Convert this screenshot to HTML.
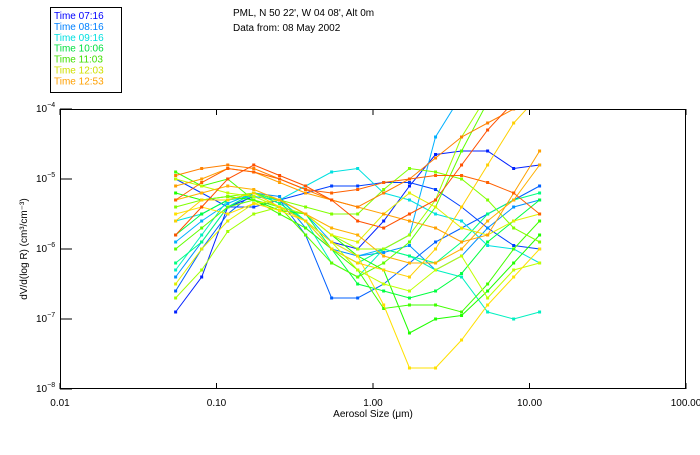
<!DOCTYPE html>
<html><head><meta charset="utf-8"><style>
body{margin:0;background:#fff;width:700px;height:450px;overflow:hidden;font-family:"Liberation Sans",sans-serif}
svg text{font-family:"Liberation Sans",sans-serif;font-size:10px}
</style></head><body>
<svg id="chart" width="700" height="450" xmlns="http://www.w3.org/2000/svg">
<rect x="50.5" y="7.5" width="71" height="85" fill="#fff" stroke="#000"/>
<g id="legend"></g>
<text x="233" y="16" fill="#000">PML, N 50 22', W 04 08', Alt 0m</text>
<text x="233" y="31" fill="#000">Data from: 08 May 2002</text>
<defs><clipPath id="pc"><rect x="60" y="109" width="626" height="280"/></clipPath></defs>
<g id="series" clip-path="url(#pc)"></g>
<rect x="60.5" y="109.5" width="625" height="279" fill="none" stroke="#000"/>
<g id="axes"></g>
<text x="373" y="417" text-anchor="middle" fill="#000">Aerosol Size (μm)</text>
<text transform="translate(27,249) rotate(-90)" text-anchor="middle" fill="#000">dV/d(log R) (cm³/cm⁻³)</text>
</svg>
<script>
const sizes=[0.0548,0.0804,0.118,0.173,0.253,0.371,0.544,0.798,1.17,1.71,2.51,3.68,5.40,7.92,11.6];
const legendLabels=["Time 07:16","Time 08:16","Time 09:16","Time 10:06","Time 11:03","Time 12:03","Time 12:53"];
const legendColors=["#0000ff","#0080ff","#00e0e0","#00e040","#40e000","#d0e000","#ffa000"];
const xTicks=[0.01,0.1,1,10,100];
const xTickLabels=["0.01","0.10","1.00","10.00","100.00"];
const yTicks=[-4,-5,-6,-7,-8];
const seriesColors=["#0020ff","#0040ff","#0060ff","#0090ff","#00b0ff","#00e0e0","#00f0c0","#00ff80","#00ff40","#20ff00","#40ff00","#60ff00","#80ff00","#a0ff00","#c0ff00","#e0f000","#ffe000","#ffd000","#ffb000","#ffa000","#ff8000","#ff6000","#ff5000"];
const s01=[-6.9,-6.4,-5.4,-5.25,-5.3,-5.6,-5.9,-6.0,-5.6,-5.1,-4.65,-4.6,-4.6,-4.85,-4.8];
const s02=[-5.0,-5.2,-5.4,-5.4,-5.3,-5.2,-5.1,-5.1,-5.05,-5.05,-5.15,-5.4,-5.7,-5.95,-6.0];
const s03=[-6.6,-6.0,-5.5,-5.2,-5.3,-5.8,-6.7,-6.7,-6.5,-6.2,-5.9,-5.7,-5.5,-5.3,-5.1];
const s04=[-6.4,-5.9,-5.4,-5.2,-5.25,-5.7,-6.0,-6.1,-6.05,-5.95,-6.3,-6.1,-5.7,-5.4,-5.3];
const s05=[-5.9,-5.6,-5.35,-5.2,-5.3,-5.5,-5.9,-6.1,-6.0,-5.8,-4.4,-3.8,-3.6,-3.5,-3.5];
const s06=[-5.6,-5.5,-5.3,-5.25,-5.3,-5.1,-4.9,-4.85,-5.2,-5.3,-5.5,-5.6,-5.95,-6.0,-6.2];
const s07=[-6.3,-5.8,-5.3,-5.2,-5.3,-5.6,-6.2,-6.4,-6.0,-6.1,-6.3,-6.4,-6.9,-7.0,-6.9];
const s08=[-6.2,-5.9,-5.4,-5.2,-5.35,-5.6,-6.0,-6.2,-6.0,-6.1,-6.2,-5.9,-5.5,-5.3,-5.2];
const s09=[-5.8,-5.5,-5.3,-5.2,-5.3,-5.5,-6.0,-6.5,-6.6,-6.7,-6.6,-6.35,-5.9,-5.6,-5.3];
const s10=[-5.2,-5.3,-5.25,-5.3,-5.45,-5.5,-5.8,-6.1,-6.3,-7.2,-7.0,-6.95,-6.6,-6.2,-5.8];
const s11=[-4.9,-5.1,-5.0,-5.3,-5.5,-5.7,-6.0,-6.3,-6.85,-6.8,-6.8,-6.9,-6.5,-6.0,-5.6];
const s12=[-6.0,-5.7,-5.4,-5.3,-5.4,-5.8,-6.2,-6.4,-6.2,-5.9,-5.4,-4.6,-3.9,-3.6,-3.5];
const s13=[-5.4,-5.3,-5.25,-5.2,-5.3,-5.4,-5.5,-5.5,-5.15,-4.85,-4.9,-5.0,-5.3,-5.7,-5.9];
const s14=[-6.7,-6.3,-5.75,-5.5,-5.4,-5.5,-5.8,-6.0,-6.0,-5.8,-5.3,-4.4,-3.8,-3.6,-3.5];
const s15=[-5.0,-5.1,-5.2,-5.25,-5.4,-5.6,-5.9,-6.3,-6.5,-6.6,-6.3,-6.1,-6.7,-6.3,-6.2];
const s16=[-6.5,-6.0,-5.6,-5.35,-5.3,-5.5,-5.8,-5.9,-5.5,-5.2,-5.4,-5.7,-5.8,-5.6,-5.5];
const s17=[-5.5,-5.4,-5.5,-5.35,-5.45,-5.6,-5.9,-6.1,-6.8,-7.7,-7.7,-7.3,-6.8,-6.4,-6.0];
const s18=[-5.6,-5.3,-5.3,-5.2,-5.4,-5.6,-6.0,-6.2,-6.3,-6.4,-6.0,-5.4,-4.8,-4.2,-3.8];
const s19=[-5.3,-5.2,-5.1,-5.15,-5.3,-5.5,-5.7,-5.8,-6.1,-6.2,-6.2,-6.0,-5.6,-5.3,-4.8];
const s20=[-5.1,-5.0,-4.85,-4.9,-5.05,-5.2,-5.3,-5.4,-5.5,-5.6,-5.7,-5.9,-5.8,-5.2,-4.6];
const s21=[-4.95,-4.85,-4.8,-4.85,-5.0,-5.15,-5.3,-5.4,-5.2,-5.0,-4.7,-4.4,-4.2,-4.0,-3.9];
const s22=[-5.3,-5.05,-4.85,-4.9,-5.0,-5.15,-5.2,-5.15,-5.05,-5.0,-4.95,-4.95,-5.05,-5.2,-5.5];
const s23=[-5.8,-5.4,-5.0,-4.8,-4.95,-5.1,-5.3,-5.6,-5.7,-5.5,-5.3,-4.8,-4.3,-3.9,-3.6];
const allSeries=[s01,s02,s03,s04,s05,s06,s07,s08,s09,s10,s11,s12,s13,s14,s15,s16,s17,s18,s19,s20,s21,s22,s23];

const NS="http://www.w3.org/2000/svg";
const X0=60,X1=686,Y0=109,Y1=389;
function xs(v){return X0+(Math.log10(v)+2)/4*(X1-X0);}
function ys(lv){return Y0+(-4-lv)/4*(Y1-Y0);}
function mk(t,a){const e=document.createElementNS(NS,t);for(const k in a)e.setAttribute(k,a[k]);return e;}

const leg=document.getElementById('legend');
legendLabels.forEach((l,i)=>{
  const t=mk('text',{x:54,y:19+i*10.9,fill:legendColors[i]});
  
  
  t.textContent=l;leg.appendChild(t);
});

const ax=document.getElementById('axes');
xTicks.forEach((v,i)=>{
  const x=xs(v);
  const a=mk('line',{x1:x,x2:x,y1:Y1,y2:Y1-6,stroke:'#000'});
  
  
  ax.appendChild(a);
  const b=mk('line',{x1:x,x2:x,y1:Y0,y2:Y0+6,stroke:'#000'});
  
  
  ax.appendChild(b);
  const t=mk('text',{x:x,y:Y1+17,'text-anchor':'middle',fill:'#000'});
  
  
  t.textContent=xTickLabels[i];ax.appendChild(t);
});
yTicks.forEach(v=>{
  const y=ys(v);
  const a=mk('line',{x1:X0,x2:X0+12,y1:y,y2:y,stroke:'#000'});
  
  
  ax.appendChild(a);
  const t=mk('text',{x:36,y:y+3,fill:'#000'});
  
  
  t.textContent='10';
  const s=mk('tspan',{dy:-5,'font-size':'7px'});s.textContent=String(v).replace('-','−');t.appendChild(s);
  ax.appendChild(t);
});

const sg=document.getElementById('series');
allSeries.forEach((ser,si)=>{
  const c=seriesColors[si];
  const pts=ser.map((v,i)=>xs(sizes[i]).toFixed(1)+','+ys(v).toFixed(1)).join(' ');
  const pl=mk('polyline',{points:pts,fill:'none',stroke:c,'stroke-width':1});
  
  
  sg.appendChild(pl);
  ser.forEach((v,i)=>{
    const r=mk('rect',{x:xs(sizes[i])-1.5,y:ys(v)-1.5,width:3,height:3,fill:c});
    
    
    sg.appendChild(r);
  });
});
</script>
</body></html>
